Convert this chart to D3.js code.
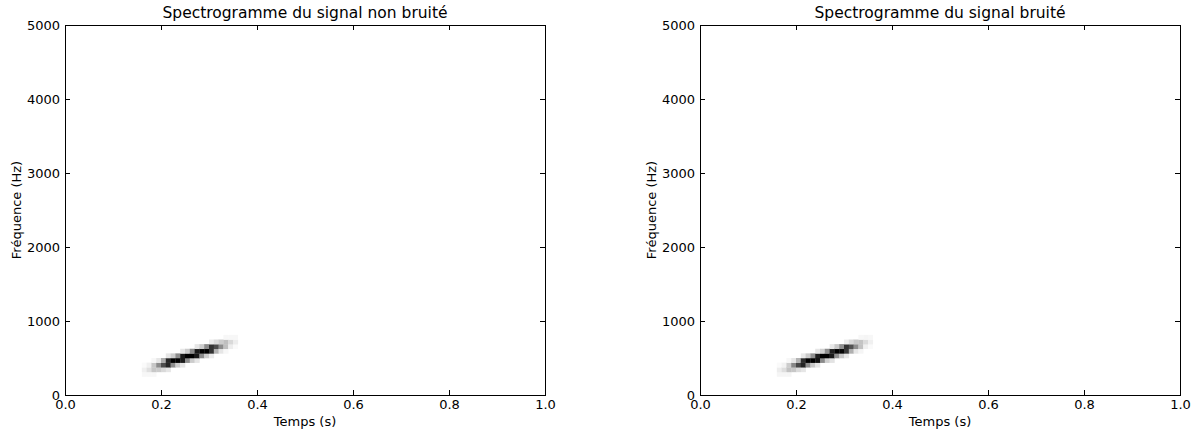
<!DOCTYPE html>
<html>
<head>
<meta charset="utf-8">
<script src="https://cdn.jsdelivr.net/npm/d3@7"></script>
<style>
  body { margin: 0; background: #fff; }
  text { font-family: "DejaVu Sans", sans-serif; fill: #000; }
</style>
</head>
<body>
<div id="app"></div>
<script>
// ---- data ----
const titles = ["Spectrogramme du signal non bruité", "Spectrogramme du signal bruité"];
const xLabel = "Temps (s)";
const yLabel = "Fréquence (Hz)";
const xTicks = [0.0, 0.2, 0.4, 0.6, 0.8, 1.0];
const yTicks = [0, 1000, 2000, 3000, 4000, 5000];

// spectrogram cells: time step 0.01 s, frequency bin 62.5 Hz
const dt = 0.01;
const df = 62.5;
const colTimes = [0.16, 0.17, 0.18, 0.19, 0.20, 0.21, 0.22, 0.23, 0.24, 0.25,
                  0.26, 0.27, 0.28, 0.29, 0.30, 0.31, 0.32, 0.33, 0.34, 0.35];
// first frequency bin of each column
const binStart = [4, 4, 4, 5, 5, 5, 6, 6, 6, 7, 7, 7, 8, 8, 8, 9, 9, 9, 10, 10];
// darkness of the cells (0 white, 1 black), one list per column
const levelsClean = [
  [0.03, 0.06, 0.02],
  [0.03, 0.12, 0.06],
  [0.03, 0.22, 0.22, 0.03],
  [0.20, 0.45, 0.10],
  [0.15, 0.70, 0.32],
  [0.10, 0.85, 0.85, 0.10],
  [0.45, 1.00, 0.20],
  [0.20, 1.00, 0.45],
  [0.10, 0.90, 0.90, 0.10],
  [0.45, 1.00, 0.20],
  [0.20, 1.00, 0.45],
  [0.10, 0.90, 0.90, 0.10],
  [0.45, 1.00, 0.20],
  [0.20, 1.00, 0.45],
  [0.08, 0.80, 0.80, 0.08],
  [0.30, 0.70, 0.14],
  [0.10, 0.45, 0.20],
  [0.03, 0.25, 0.25, 0.03],
  [0.07, 0.15, 0.03],
  [0.02, 0.07, 0.03]
];
const levelsNoisy = [
  [0.04, 0.07, 0.02],
  [0.04, 0.13, 0.05],
  [0.04, 0.24, 0.20, 0.03],
  [0.22, 0.47, 0.10],
  [0.14, 0.72, 0.30],
  [0.10, 0.86, 0.82, 0.09],
  [0.44, 1.00, 0.21],
  [0.21, 1.00, 0.43],
  [0.10, 0.92, 0.88, 0.10],
  [0.46, 1.00, 0.19],
  [0.19, 1.00, 0.44],
  [0.11, 0.90, 0.88, 0.09],
  [0.43, 1.00, 0.21],
  [0.21, 0.98, 0.44],
  [0.09, 0.78, 0.80, 0.07],
  [0.31, 0.68, 0.15],
  [0.10, 0.44, 0.21],
  [0.04, 0.24, 0.23, 0.03],
  [0.06, 0.14, 0.04],
  [0.02, 0.06, 0.03]
];

// ---- layout ----
const W = 1193, H = 432;
const panels = [
  { x: 65,  levels: levelsClean, title: titles[0] },
  { x: 700, levels: levelsNoisy, title: titles[1] }
];
const pTop = 25, pW = 480, pH = 370;
const tickLen = 5;

const svg = d3.select("#app").append("svg")
  .attr("width", W).attr("height", H);

const xScale = d3.scaleLinear().domain([0, 1]).range([0, pW]);
const yScale = d3.scaleLinear().domain([0, 5000]).range([pH, 0]);
const grey = d3.scaleLinear().domain([0, 1]).range(["#ffffff", "#000000"]).clamp(true);

panels.forEach(p => {
  const g = svg.append("g").attr("transform", "translate(" + p.x + "," + pTop + ")");

  // flatten the columns into cells
  const cells = [];
  colTimes.forEach((t, i) => {
    p.levels[i].forEach((v, j) => {
      cells.push({ t: t, bin: binStart[i] + j, v: v });
    });
  });

  g.append("g").selectAll("rect")
    .data(cells).enter()
    .append("rect")
    .attr("x", d => xScale(d.t))
    .attr("y", d => yScale((d.bin + 1) * df))
    .attr("width", xScale(dt) - xScale(0) + 0.3)
    .attr("height", yScale(0) - yScale(df) + 0.3)
    .attr("fill", d => grey(d.v));

  // axes, ticks pointing inward on all sides
  const bottom = g.append("g").attr("transform", "translate(0," + pH + ")")
    .call(d3.axisBottom(xScale).tickValues(xTicks).tickFormat(d3.format(".1f"))
      .tickSizeInner(-tickLen).tickSizeOuter(0).tickPadding(5));
  const top = g.append("g")
    .call(d3.axisTop(xScale).tickValues(xTicks).tickFormat("")
      .tickSizeInner(-tickLen).tickSizeOuter(0));
  const left = g.append("g")
    .call(d3.axisLeft(yScale).tickValues(yTicks).tickFormat(d3.format("d"))
      .tickSizeInner(-tickLen).tickSizeOuter(0).tickPadding(5));
  const right = g.append("g").attr("transform", "translate(" + pW + ",0)")
    .call(d3.axisRight(yScale).tickValues(yTicks).tickFormat("")
      .tickSizeInner(-tickLen).tickSizeOuter(0));

  [bottom, top, left, right].forEach(a => {
    a.select(".domain").remove();
    a.selectAll(".tick line").attr("stroke", "#000");
    a.selectAll(".tick text").attr("font-size", "13px")
      .attr("font-family", "DejaVu Sans").attr("fill", "#000");
  });

  // frame
  g.append("rect")
    .attr("x", 0.5).attr("y", 0.5)
    .attr("width", pW).attr("height", pH)
    .attr("fill", "none").attr("stroke", "#000").attr("stroke-width", 1);

  g.append("text")
    .attr("x", pW / 2).attr("y", -7)
    .attr("text-anchor", "middle")
    .attr("font-size", "15.5px")
    .text(p.title);

  g.append("text")
    .attr("x", pW / 2).attr("y", pH + 31)
    .attr("text-anchor", "middle")
    .attr("font-size", "13px")
    .text(xLabel);

  g.append("text")
    .attr("transform", "translate(-44," + (pH / 2) + ") rotate(-90)")
    .attr("text-anchor", "middle")
    .attr("font-size", "13px")
    .text(yLabel);
});
</script>
</body>
</html>
